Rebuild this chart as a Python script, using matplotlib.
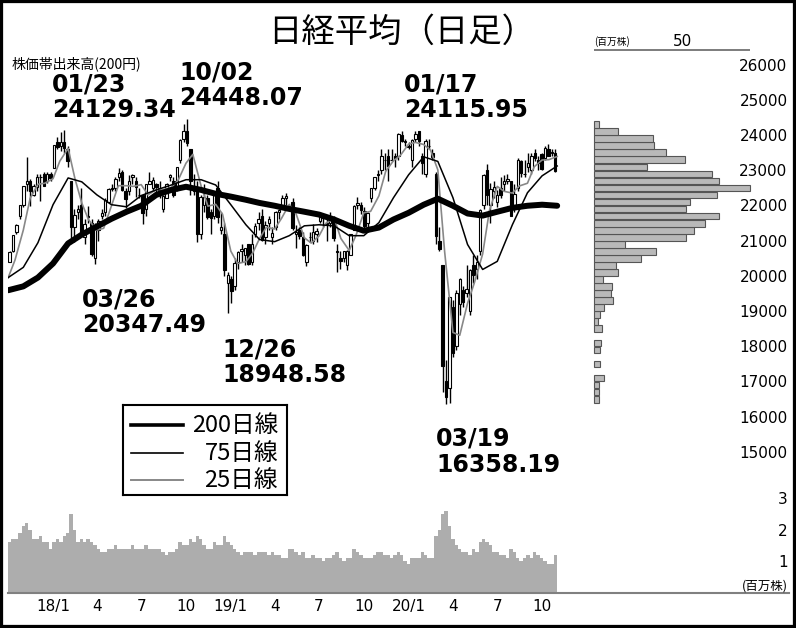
import numpy as np
import pandas as pd
import matplotlib
matplotlib.use('Agg')
import matplotlib.pyplot as plt
import matplotlib.dates as mdates
from matplotlib.patches import Rectangle
from matplotlib.ticker import FuncFormatter, FixedLocator

plt.rcParams['font.family'] = ['DejaVu Sans', 'Noto Sans CJK JP']
JP = ['Noto Sans CJK JP', 'DejaVu Sans']

# weekly candles (week ending Friday), Oct 2017 - Oct 2020
opens = [
    20400, 20700, 21250, 21700, 22000, 22600, 22700, 22300, 22530, 22800, 22900, 22700, 22900,
    # 2018
    23070, 23800, 23700, 23800, 23600, 22700, 21400, 21800, 22000, 21100, 21700, 21500, 20500,
    21300, 21700, 21800, 22100, 22500, 22500, 22800, 22950, 22400, 22400, 22800, 22700, 22300,
    22300, 21900, 22600, 22500, 22600, 22500, 21900, 22200, 22800, 22700, 22500, 23300, 23900,
    24100, 23600, 22400, 22400, 21200, 22000, 22200, 21800, 21700, 22500, 21300, 21200, 19800,
    # 2019
    19900, 19700, 20400, 20700, 20600, 20900, 20400, 21200, 21500, 21700, 21100, 21500, 21100,
    21400, 21800, 22000, 22200, None, 22100, 21200, 21300, 21100, 20400, 21100, 21000, 21200,
    21550, 21650, 21500, 21500, 21600, 20700, 20500, 20500, 20300, 20600, 21300, 22000, 22000,
    21850, 21500, 22200, 22500, 22900, 23000, 23300, 23400, 23300, 23400, 23400, 24000, 23800,
    # 2020
    23700, 23300, 23900, 24100, 23400, 22900, 23700, 23500, 22900, 21000, 20300, 17000, 16800,
    19100, 18000, 19200, 19600, 19500, 19000, 20300, 20200, 20700, 22000, 23000, 22000, 22400,
    22100, 22500, 22600, 22700, 22700, 21900, 22500, 23250, 22900, 23100, 23000, 23500, 23300,
    23450, 23350, 23600, 23500, 23500,
]
highs = [
    20710, 21160, 21470, 22020, 22540, 23382, 22750, 22600, 22900, 22900, 22950, 22950, 22940,
    23720, 23950, 24080, 24129, 23700, 22700, 21900, 22000, 22500, 21600, 21970, 21600, 21500,
    21600, 21900, 22200, 22500, 22600, 22800, 23050, 23000, 22500, 22850, 22900, 22800, 22500,
    22300, 22600, 22950, 22800, 22650, 22700, 22300, 22650, 22900, 22800, 23100, 23900, 24300,
    24448, 23600, 22900, 22700, 22300, 22600, 22300, 21900, 22400, 22700, 21800, 21500, 20100,
    20000, 20500, 20700, 20900, 20800, 20900, 21200, 21500, 21800, 21900, 21550, 21700, 21400,
    21850, 21900, 22300, 22350, None, 22200, 21450, 21400, 21250, 20900, 21250, 21460, 21350,
    21800, 21700, 21600, 21800, 21700, 20900, 20700, 20700, 20730, 21200, 22000, 22250, 22100,
    21950, 21800, 22500, 22800, 23000, 23600, 23500, 23600, 23600, 23500, 24050, 24100, 23900,
    23800, 23900, 24116, 24100, 23500, 23900, 23900, 23600, 22950, 21400, 20300, 17600, 19400,
    19300, 19600, 19950, 19700, 20300, 20200, 20600, 20600, 21900, 22900, 23185, 22650, 22700,
    22450, 22800, 22850, 22900, 22700, 22600, 23350, 23300, 23300, 23500, 23500, 23600, 23400,
    23500, 23700, 23750, 23600, 23600,
]
lows = [
    20390, 20680, 21200, 21600, 21950, 22400, 21970, 22260, 22400, 22120, 22550, 22650, 22700,
    23050, 23600, 23550, 23500, 23100, 21078, 20950, 21600, 21100, 20900, 21500, 20550, 20347,
    21000, 21600, 21700, 22100, 22400, 22400, 22700, 22400, 21930, 22300, 22600, 22250, 22200,
    21460, 21700, 22600, 22400, 22300, 22200, 21800, 22200, 22700, 22250, 22400, 23200, 23800,
    23700, 22300, 22300, 20970, 21050, 21800, 21600, 21200, 21600, 21500, 21200, 20000, 18948,
    19240, 19600, 20200, 20400, 20300, 20300, 20300, 21100, 21300, 21000, 20900, 21300, 20900,
    21300, 21600, 21900, 22000, None, 21300, 20800, 21050, 20550, 20290, 20950, 20900, 20950,
    21500, 21400, 20990, 21400, 21000, 20110, 20180, 20400, 20170, 20600, 21300, 21900, 21750,
    21300, 21300, 22100, 22450, 22700, 22900, 23000, 22700, 23250, 23100, 23300, 23800, 23700,
    23600, 23100, 23800, 23700, 22900, 22800, 23600, 23300, 20900, 20700, 16690, 16358, 16400,
    17700, 17900, 18900, 19100, 19400, 18900, 19800, 19900, 20600, 21900, 22000, 21500, 22200,
    21950, 22200, 22400, 22600, 21700, 21800, 22400, 22800, 22800, 22950, 22900, 23250, 23000,
    23000, 23300, 23400, 23400, 22950,
]
closes = [
    20690, 21155, 21457, 22008, 22539, 22681, 22397, 22550, 22819, 22811, 22553, 22902, 22765,
    23715, 23653, 23808, 23632, 23274, 21383, 21720, 21892, 21182, 21469, 21676, 20617, 21454,
    21567, 21778, 22162, 22467, 22473, 22758, 22930, 22450, 22171, 22694, 22851, 22516, 22305,
    21788, 22597, 22698, 22712, 22525, 22298, 22270, 22601, 22865, 22307, 23094, 23870, 24120,
    23784, 22694, 22532, 21184, 22243, 22250, 21680, 21646, 22351, 21679, 21374, 20166, 20014,
    19561, 20359, 20666, 20773, 20788, 20333, 20900, 21425, 21602, 21025, 21450, 21627, 21205,
    21807, 21870, 22200, 22258, None, 21344, 21250, 21117, 20601, 20884, 21116, 21258, 21275,
    21746, 21685, 21466, 21658, 21087, 20684, 20418, 20710, 20704, 21199, 21988, 22079, 21878,
    21410, 21798, 22492, 22799, 22850, 23391, 23303, 23112, 23293, 23354, 24023, 23816, 23837,
    23656, 23850, 24041, 23827, 23205, 23827, 23687, 23386, 21142, 20749, 17431, 16552, 19389,
    17820, 19498, 19897, 19262, 19619, 20179, 20037, 20388, 21877, 22863, 22305, 22478, 22512,
    22306, 22290, 22696, 22751, 21710, 22329, 23289, 22920, 22882, 23205, 23406, 23360, 23204,
    23029, 23619, 23410, 23516, 22977,
]
# average daily volume per week
volume = [
    1.6, 1.7, 1.7, 1.9, 2.1, 2.2, 2.0, 1.7, 1.7, 1.8, 1.6, 1.6, 1.4,
    1.6, 1.7, 1.6, 1.8, 1.9, 2.5, 2.0, 1.6, 1.7, 1.6, 1.7, 1.6, 1.5,
    1.4, 1.3, 1.3, 1.4, 1.4, 1.5, 1.4, 1.4, 1.4, 1.4, 1.5, 1.4, 1.4,
    1.4, 1.5, 1.4, 1.4, 1.4, 1.4, 1.3, 1.2, 1.3, 1.3, 1.4, 1.6, 1.5,
    1.5, 1.7, 1.6, 1.8, 1.7, 1.5, 1.4, 1.4, 1.6, 1.5, 1.5, 1.8, 1.6,
    1.5, 1.4, 1.3, 1.2, 1.3, 1.3, 1.3, 1.2, 1.3, 1.3, 1.3, 1.2, 1.3,
    1.2, 1.2, 1.1, 1.1, None, 1.4, 1.3, 1.2, 1.3, 1.1, 1.1, 1.2, 1.1,
    1.1, 1.0, 1.1, 1.1, 1.2, 1.3, 1.1, 1.0, 1.1, 1.1, 1.4, 1.3, 1.2,
    1.1, 1.1, 1.1, 1.2, 1.3, 1.3, 1.2, 1.2, 1.1, 1.2, 1.3, 1.2, 1.0,
    0.9, 1.1, 1.1, 1.1, 1.3, 1.2, 1.1, 1.1, 1.8, 2.0, 2.5, 2.6, 2.1,
    1.7, 1.5, 1.4, 1.3, 1.3, 1.2, 1.4, 1.3, 1.6, 1.7, 1.6, 1.5, 1.3,
    1.3, 1.2, 1.2, 1.1, 1.4, 1.3, 1.1, 1.0, 1.1, 1.2, 1.1, 1.3, 1.2,
    1.1, 1.0, 0.9, 0.9, 1.2,
]

# moving averages: 200/75 day at month starts, 25 day twice a month
ma200 = [19590, 19700, 19950,
         20350, 20920, 21170, 21400, 21620, 21820, 21990, 22300, 22440, 22530, 22440, 22330,
         22250, 22160, 22070, 21990, 21900, 21820, 21740, 21600, 21420, 21280, 21370, 21600,
         21790, 22020, 22190, 21990, 21770, 21710, 21820, 21930, 21990, 22020, 21990]
ma75 = [19950, 20240, 20940,
        22020, 22780, 22670, 22300, 22020, 21960, 22280, 22440, 22580, 22730, 22730, 22580,
        22020, 21450, 21030, 20970, 21140, 21420, 21450, 21420, 21140, 21140, 21510, 22220,
        22870, 23380, 23250, 22220, 20890, 20180, 20410, 21450, 22360, 22840, 23120]
ma25 = [19950, 20450, 21300, 22200, 22600, 22630,
        22760, 23260, 23620, 22760, 22070, 21590, 21300, 21350, 21990, 22560, 22560, 22540,
        22590, 22300, 22450, 22450, 22510, 22720, 23200, 23450, 22550, 21980, 22030, 21750,
        20700, 20350, 20400, 20650, 21060, 21380, 21330, 21630, 22030, 21760, 21080, 20930,
        21130, 21490, 21640, 21060, 20720, 21150, 21790, 21830, 22270, 22970, 23270, 23420,
        23740, 23790, 23730, 23570, 23010, 20680, 18390, 18310, 19220, 19800, 20620, 21860,
        22540, 22400, 22350, 22550, 22630, 23100, 23290, 23300, 23390]

# volume by price, 200 yen bands from 16400 upward
band_low = list(range(16400, 24400, 200))
band_vol = [3.0, 2.6, 2.6, 5.4, 0, 3.4, 0, 3.2, 3.9, 0,
            4.3, 2.1, 3.4, 5.8, 10.7, 9.7, 10.1, 5.1, 13.3, 12.4,
            26.4, 35.0, 17.2, 51.7, 56.3, 62.4, 70.1, 51.5, 54.1, 69.3,
            87.6, 70.1, 66.3, 29.6, 51.0, 40.3, 33.5, 33.3, 13.3, 2.6]

notes = [('01/23', '24129.34', 52, 72), ('10/02', '24448.07', 179, 60),
         ('01/17', '24115.95', 404, 72), ('03/26', '20347.49', 82, 287),
         ('12/26', '18948.58', 222, 337), ('03/19', '16358.19', 436, 427)]

W, H = 796, 628
def fx(px):
    return px / W
def fy(py):
    return 1 - py / H

o = np.array(opens, dtype=float)
h = np.array(highs, dtype=float)
l = np.array(lows, dtype=float)
c = np.array(closes, dtype=float)
v = np.array(volume, dtype=float)
weeks = pd.date_range('2017-10-06', periods=len(closes), freq='W-FRI')
t = mdates.date2num(weeks) - 2
t200 = mdates.date2num(pd.date_range('2017-10-01', periods=len(ma200), freq='MS'))
t75 = mdates.date2num(pd.date_range('2017-10-01', periods=len(ma75), freq='MS'))
t25 = mdates.date2num(pd.date_range('2017-10-01', periods=len(ma25), freq='SMS'))

fig = plt.figure(figsize=(7.96, 6.28), dpi=100)
fig.patch.set_facecolor('white')

L, R = 8, 789
ax = fig.add_axes([fx(L), fy(470), fx(R) - fx(L), fy(50) - fy(470)])
axv = fig.add_axes([fx(L), fy(593), fx(R) - fx(L), fy(470) - fy(593)], sharex=ax)

# x scale: 0.4871 px per day, 2017-10-02 at px 8.7
ppd = 0.4871
d0 = mdates.date2num(pd.Timestamp('2017-10-02'))
ax.set_xlim(d0 - (8.7 - L) / ppd, d0 + (R - 8.7) / ppd)
ax.set_ylim(14483, 26415)

ok = ~np.isnan(c)
up = ok & (c >= o)
dn = ok & (c < o)
ax.vlines(t[ok], l[ok], h[ok], color='black', lw=1.0, zorder=3)
ax.bar(t[up], (c - o)[up], bottom=o[up], width=5, color='white',
       edgecolor='black', lw=0.8, zorder=4)
ax.bar(t[dn], (c - o)[dn], bottom=o[dn], width=5, color='black',
       edgecolor='black', lw=0.8, zorder=4)

ax.plot(t25, ma25, color='#888888', lw=1.2, zorder=5)
ax.plot(t75, ma75, color='black', lw=1.1, zorder=6)
ax.plot(t200, ma200, color='black', lw=4.3, zorder=7, solid_capstyle='round')

# volume by price on its own scale: 0 at px 594, 50 at px 683
axh = ax.twiny()
scale = (683 - 594) / 50
left = -(594 - L) / scale
axh.set_xlim(left, left + (R - L) / scale)
bv = np.array(band_vol)
bl = np.array(band_low)
m = bv > 0
axh.barh(bl[m], bv[m], height=190, align='edge', color='#b9b9b9',
         edgecolor='#555555', lw=0.8)
axh.hlines(ax.get_ylim()[1], 0, bv.max(), color='#666666', lw=1.2, clip_on=False)
axh.set_xticks([50])
axh.tick_params(axis='x', top=True, bottom=False, length=0, pad=1, labelsize=11)
for s in axh.spines.values():
    s.set_visible(False)

ax.set_yticks(range(15000, 26001, 1000))
ax.yaxis.tick_right()
ax.tick_params(axis='y', length=0, pad=-1, labelsize=11)
plt.setp(ax.get_yticklabels(), ha='right')
ax.tick_params(axis='x', bottom=False, top=False, labelbottom=False, length=0)
for s in ax.spines.values():
    s.set_visible(False)
ax.patch.set_alpha(0)

# volume panel, each bar spans back to the previous trading week
vt = t[~np.isnan(v)]
vv = v[~np.isnan(v)]
right_edge = vt + 3.5
left_edge = np.r_[vt[0] - 3.5, right_edge[:-1]]
axv.bar(left_edge, vv, width=right_edge - left_edge, align='edge', color='#adadad', lw=0)
axv.set_ylim(0, 123 / 31.7)
axv.set_yticks([1, 2, 3])
axv.yaxis.tick_right()
axv.tick_params(axis='y', length=0, pad=-1, labelsize=11)
plt.setp(axv.get_yticklabels(), ha='right')
month_ticks = mdates.date2num(pd.date_range('2018-01-01', '2020-10-01', freq='3MS'))
axv.xaxis.set_major_locator(FixedLocator(month_ticks))

def month_label(x, pos):
    d = mdates.num2date(x)
    return f'{d.year % 100}/1' if d.month == 1 else str(d.month)

axv.xaxis.set_major_formatter(FuncFormatter(month_label))
axv.tick_params(axis='x', length=0, pad=4, labelsize=11)
for k in ('top', 'left', 'right'):
    axv.spines[k].set_visible(False)
axv.spines['bottom'].set_color('#808080')
axv.spines['bottom'].set_linewidth(1.5)
axv.patch.set_alpha(0)

# texts
fig.text(fx(402), fy(32), '日経平均（日足）', fontsize=24, family=JP, ha='center', va='center')
fig.text(fx(12), fy(64), '株価帯出来高(200円)', fontsize=10, family=JP, va='center')
fig.text(fx(594), fy(42), '(百万株)', fontsize=7, family=JP, va='center')
fig.text(fx(788), fy(586), '(百万株)', fontsize=9, family=JP, ha='right', va='center')
for day, val, px, py in notes:
    fig.text(fx(px), fy(py), day + '\n' + val, fontsize=17, fontweight='bold',
             ha='left', va='top', linespacing=1.1)

# legend box
lg = fig.add_axes([fx(123), fy(495), fx(287) - fx(123), fy(405) - fy(495)])
lg.set_xlim(0, 164)
lg.set_ylim(90, 0)
lg.set_xticks([])
lg.set_yticks([])
for s in lg.spines.values():
    s.set_linewidth(1.5)
for yy, lab, col, lw in [(20, '200日線', 'black', 2.6), (48, '75日線', 'black', 1.2),
                         (75, '25日線', '#888888', 1.4)]:
    lg.plot([8, 60], [yy, yy], color=col, lw=lw)
    lg.text(155, yy, lab, fontsize=17, family=JP, ha='right', va='center')

fig.add_artist(Rectangle((0, 0), 1, 1, transform=fig.transFigure, fill=False,
                         ec='black', lw=4.5, clip_on=False))

fig.savefig('out.png', dpi=100)
